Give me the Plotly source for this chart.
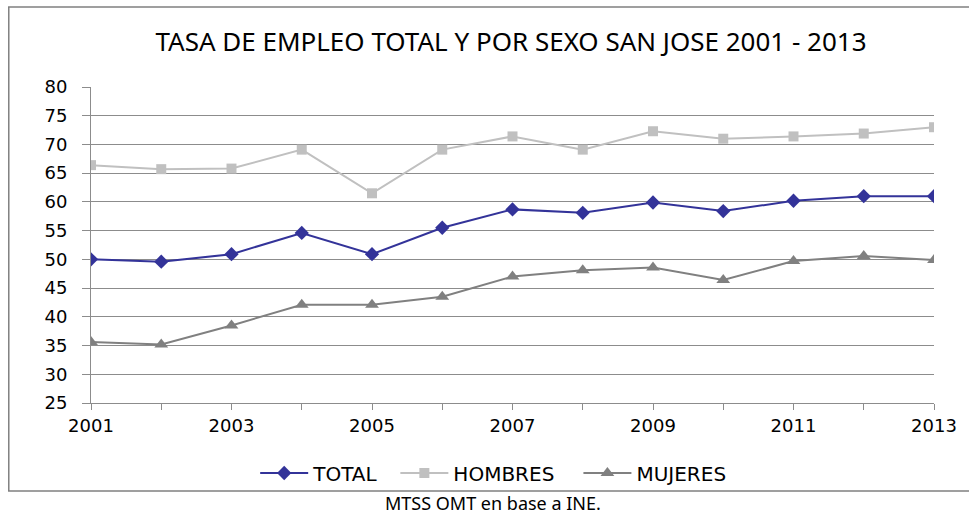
import plotly.graph_objects as go

years = list(range(2001, 2014))
total = [50.0, 49.6, 50.9, 54.6, 50.9, 55.5, 58.7, 58.1, 59.9, 58.4, 60.2, 61.0, 61.0]
hombres = [66.4, 65.7, 65.8, 69.1, 61.5, 69.1, 71.4, 69.1, 72.3, 71.0, 71.4, 71.9, 73.0]
mujeres = [35.6, 35.2, 38.5, 42.1, 42.1, 43.5, 47.0, 48.1, 48.6, 46.4, 49.7, 50.6, 49.9]

x_tick_vals = [2001, 2003, 2005, 2007, 2009, 2011, 2013]
y_tick_vals = [25, 30, 35, 40, 45, 50, 55, 60, 65, 70, 75, 80]

title_text = "TASA DE EMPLEO TOTAL Y POR SEXO SAN JOSE 2001 - 2013"
source_text = "MTSS OMT en base a INE."
NB = "\u00a0"

fig = go.Figure()
fig.add_trace(go.Scatter(x=years, y=total, name="TOTAL" + NB * 2, mode="lines+markers",
                         line=dict(color="#333399", width=2),
                         marker=dict(symbol="diamond", size=11, color="#333399")))
fig.add_trace(go.Scatter(x=years, y=hombres, name="HOMBRES" + NB * 3, mode="lines+markers",
                         line=dict(color="#C0C0C0", width=2),
                         marker=dict(symbol="square", size=10, color="#C0C0C0")))
fig.add_trace(go.Scatter(x=years, y=mujeres, name="MUJERES", mode="lines+markers",
                         line=dict(color="#808080", width=2),
                         marker=dict(symbol="triangle-up", size=12, color="#808080")))

W, H = 969, 514
L, R, T, B = 91, 27, 87, 111
pw, ph = W - L - R, H - T - B

def px_x(x):
    return (x - L) / pw

def px_y(y):
    return (H - B - y) / ph

fig.update_layout(
    width=W, height=H,
    margin=dict(l=L, r=R, t=T, b=B),
    paper_bgcolor="white", plot_bgcolor="white",
    font=dict(family="DejaVu Sans", size=16, color="#000000"),
    title=dict(text=title_text, x=511 / W, xanchor="center",
               y=1 - 42 / H, yanchor="middle", yref="container",
               font=dict(family="Noto Sans", size=26, color="#000000")),
    xaxis=dict(range=[2001, 2013], tickvals=x_tick_vals,
               ticktext=[str(v) for v in x_tick_vals],
               showgrid=False, showline=True, linecolor="#8C8C8C", linewidth=1,
               ticks="outside", ticklen=6, tickcolor="#8C8C8C",
               minor=dict(dtick=1, ticks="outside", ticklen=6, tickcolor="#8C8C8C", showgrid=False),
               tickfont=dict(family="DejaVu Sans", size=18), zeroline=False),
    yaxis=dict(range=[25, 80], tickvals=y_tick_vals,
               showgrid=True, gridcolor="#8C8C8C", gridwidth=1,
               showline=True, linecolor="#8C8C8C", linewidth=1,
               ticks="outside", ticklen=8, tickcolor="#8C8C8C",
               tickfont=dict(family="DejaVu Sans", size=18), zeroline=False,
               ticklabelstandoff=11),
    legend=dict(orientation="h", x=px_x(497), xanchor="center",
                y=px_y(473), yanchor="middle", itemwidth=48,
                font=dict(family="DejaVu Sans", size=20), bgcolor="rgba(0,0,0,0)"),
    showlegend=True,
)

fig.add_shape(type="rect", xref="paper", yref="paper",
              x0=px_x(8), x1=px_x(990), y0=px_y(491), y1=px_y(7),
              line=dict(color="#808080", width=1.5), fillcolor="rgba(0,0,0,0)", layer="below")

fig.add_annotation(text=source_text, xref="paper", yref="paper",
                   x=px_x(497), y=px_y(503), xanchor="center", yanchor="middle",
                   showarrow=False, font=dict(family="Noto Sans", size=18, color="#000000"))

fig.write_html("out.html", config={"displayModeBar": False},
               post_script="document.body.style.margin='0';")
